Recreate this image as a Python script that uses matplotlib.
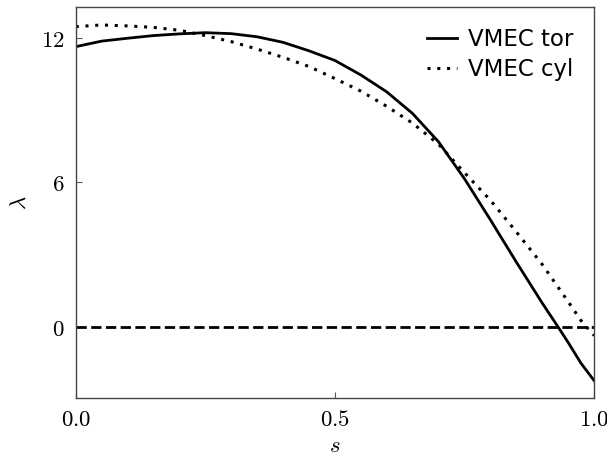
import matplotlib
matplotlib.use("Agg")
import matplotlib.pyplot as plt
from matplotlib.ticker import FuncFormatter

s_tor = [0.0, 0.05, 0.1, 0.15, 0.2, 0.25, 0.3, 0.35, 0.4, 0.45, 0.5, 0.55,
         0.6, 0.65, 0.7, 0.75, 0.8, 0.85, 0.9, 0.93, 0.95, 0.975, 1.0]
lam_tor = [11.62, 11.85, 11.97, 12.08, 12.15, 12.2, 12.16, 12.03, 11.8, 11.45,
           11.05, 10.45, 9.75, 8.85, 7.68, 6.15, 4.45, 2.7, 1.0, 0.03, -0.63, -1.5, -2.21]

s_cyl = [0.0, 0.05, 0.1, 0.15, 0.2, 0.25, 0.3, 0.35, 0.4, 0.45, 0.5, 0.55,
         0.6, 0.65, 0.7, 0.75, 0.8, 0.85, 0.9, 0.95, 0.975, 1.0]
lam_cyl = [12.45, 12.52, 12.48, 12.42, 12.3, 12.08, 11.83, 11.52, 11.18, 10.8,
           10.3, 9.78, 9.15, 8.45, 7.58, 6.4, 5.26, 3.95, 2.6, 1.06, 0.27, -0.35]

xticks = [0.0, 0.5, 1.0]
yticks = [0, 6, 12]

plt.rcParams['mathtext.fontset'] = 'cm'
fig = plt.figure(figsize=(6.07, 4.59), dpi=100)
ax = fig.add_axes([0.1247, 0.1322, 0.8539, 0.8518])

ax.plot(s_tor, lam_tor, color='black', lw=2.0, label='VMEC tor')
ax.plot(s_cyl, lam_cyl, color='black', lw=2.2, dashes=(1, 2.2), label='VMEC cyl')
ax.axhline(0, color='black', lw=2.0, ls='--')

ax.set_xlim(0, 1)
ax.set_ylim(-2.95, 13.25)
ax.set_xticks(xticks)
ax.set_yticks(yticks)
ax.xaxis.set_major_formatter(FuncFormatter(lambda v, p: r'$%.1f$' % v))
ax.yaxis.set_major_formatter(FuncFormatter(lambda v, p: r'$%d$' % v))
ax.tick_params(direction='in', labelsize=16.5, color='#555555', length=4, width=0.8)
ax.tick_params(axis='x', pad=7)
ax.tick_params(axis='y', pad=8)
for sp in ax.spines.values():
    sp.set_color('#444444')
    sp.set_linewidth(1.0)

ax.set_xlabel(r'$s$', fontsize=16.5, labelpad=2)
ax.set_ylabel(r'$\lambda$', fontsize=16.5, labelpad=7)

ax.legend(loc='upper right', frameon=False, fontsize=16.5, handlelength=1.3,
          handletextpad=0.5, labelspacing=0.3)

fig.savefig('out.png', dpi=100)
